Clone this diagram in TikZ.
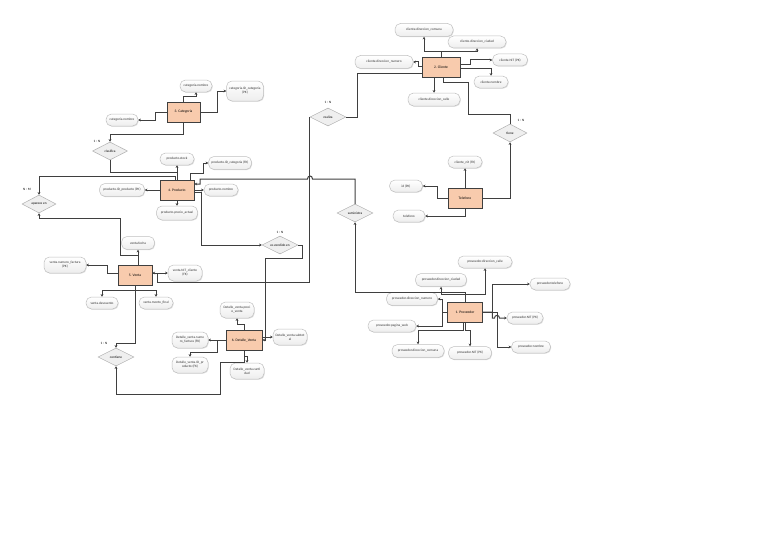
\documentclass[tikz,border=0pt]{standalone}
\usepackage{fontspec}
\setmainfont{Carlito}
\usetikzlibrary{shapes.geometric,arrows.meta,shadows,calc}
\definecolor{peach}{HTML}{F8CBAD}
\definecolor{linec}{HTML}{3F3F3F}
\definecolor{pillb}{HTML}{BFBFBF}
\definecolor{diamf}{HTML}{EFEFEF}
\definecolor{diamb}{HTML}{B0B0B0}
\tikzset{
 attr/.style={rectangle, rounded corners=5.5pt, draw=pillb, line width=0.5pt, top color=white, bottom color=gray!14, drop shadow={opacity=0.25,shadow xshift=0.7pt,shadow yshift=-0.7pt}, minimum height=12pt, inner sep=0.5pt, font=\fontsize{3.4}{4}\selectfont, align=center, text=black!80},
 ent/.style={rectangle, draw=linec, fill=peach, line width=0.9pt, minimum width=35pt, minimum height=20pt, font=\fontsize{3.6}{4.3}\selectfont, inner sep=0pt},
 rel/.style={diamond, aspect=2, draw=diamb, fill=diamf, line width=0.5pt, minimum width=36pt, minimum height=18pt, inner sep=0pt, font=\fontsize{3.4}{4}\selectfont},
 card/.style={font=\fontsize{3.4}{4}\selectfont, inner sep=0pt},
 conn/.style={draw=linec, line width=1pt},
 arr/.style={conn, -{Stealth[length=2.6pt,width=2.6pt]}},
}
\begin{document}
\begin{tikzpicture}[x=1pt,y=-1pt]
\fill[white] (0,0) rectangle (768,535);
\useasboundingbox (0,0) rectangle (768,535);

% ---------- entities ----------
\node[ent, minimum width=38pt] (E2) at (441,67) {2. Cliente};
\node[ent, minimum width=33pt] (E3) at (183.5,112) {3. Categoria};
\node[ent, minimum width=34pt] (E4) at (177,190) {4. Producto};
\node[ent, minimum width=34pt] (E5) at (135,275) {5. Venta};
\node[ent, minimum width=36pt] (E6) at (244,340) {6. Detalle\_Venta};
\node[ent, minimum width=34pt] (ET) at (465,198) {Telefono};
\node[ent, minimum width=35pt] (E1) at (465,312) {1. Proveedor};

% ---------- relationships ----------
\node[rel] (realiza) at (328,117) {realiza};
\node[rel, minimum width=35pt] (clasifica) at (110,151) {clasifica};
\node[rel, minimum width=34pt] (aparece) at (39,204) {aparece en};
\node[rel] (contiene) at (116,357) {contiene};
\node[rel] (vendido) at (280,245) {es vendido en};
\node[rel] (suministra) at (355,213) {suministra};
\node[rel, minimum width=34pt] (tiene) at (510,133) {tiene};

\node[card] (k1) at (328,102) {1 : N};
\node[card] (k2) at (97,141) {1 : N};
\node[card] (k3) at (27,189) {N : M};
\node[card] (k4) at (104,343) {1 : N};
\node[card] (k5) at (280,232) {1 : N};
\node[card] (k6) at (521,120) {1 : N};

% ---------- attributes: cliente ----------
\node[attr, minimum width=58pt, minimum height=13pt] (cComuna) at (424,30) {cliente.direccion\_comuna};
\node[attr, minimum width=58pt] (cCiudad) at (477,42) {cliente.direccion\_ciudad};
\node[attr, minimum width=58pt, minimum height=13pt] (cNumero) at (384,62) {cliente.direccion\_numero};
\node[attr, minimum width=35pt] (cNit) at (510,60) {cliente.NIT (PK)};
\node[attr, minimum width=34pt] (cNombre) at (491,82) {cliente.nombre};
\node[attr, minimum width=52pt, minimum height=13pt] (cCalle) at (434,99.5) {cliente.direccion\_calle};

% ---------- attributes: categoria ----------
\node[attr, minimum width=32pt] (catNomTop) at (196,86) {categoria.nombre};
\node[attr, minimum width=37pt, minimum height=20pt] (catID) at (245,91) {categoria.ID\_categoria\\(PK)};
\node[attr, minimum width=32pt] (catNomLeft) at (122,120) {categoria.nombre};

% ---------- attributes: producto ----------
\node[attr, minimum width=34pt] (pStock) at (177,159) {producto.stock};
\node[attr, minimum width=43pt, minimum height=13pt] (pIDcat) at (230,163) {producto.ID\_categoria (FK)};
\node[attr, minimum width=45pt, minimum height=13pt] (pPK) at (122,190) {producto.ID\_producto (PK)};
\node[attr, minimum width=34pt] (pNombre) at (221,190) {producto.nombre};
\node[attr, minimum width=41pt, minimum height=14pt] (pPrecio) at (177,213) {producto.precio\_actual};

% ---------- attributes: venta ----------
\node[attr, minimum width=33pt, minimum height=13pt] (vFecha) at (138,243) {venta.fecha};
\node[attr, minimum width=42pt, minimum height=16pt] (vPK) at (65,265) {venta.numero\_factura\\(PK)};
\node[attr, minimum width=34pt, minimum height=16pt] (vNIT) at (185,273) {venta.NIT\_cliente\\(FK)};
\node[attr, minimum width=32pt] (vDesc) at (102,303) {venta.descuento};
\node[attr, minimum width=34pt] (vMonto) at (156,303) {venta.monto\_final};

% ---------- attributes: detalle venta ----------
\node[attr, minimum width=34pt, minimum height=16pt] (dPrecio) at (237,310) {Detalle\_venta.preci\\o\_venta};
\node[attr, minimum width=34pt, minimum height=16pt] (dSub) at (290,337) {Detalle\_venta.subtot\\al};
\node[attr, minimum width=36pt, minimum height=16pt] (dNum) at (190,340) {Detalle\_venta.nume\\ro\_factura (FK)};
\node[attr, minimum width=36pt, minimum height=16pt] (dIDp) at (190,365) {Detalle\_venta.ID\_pr\\oducto (FK)};
\node[attr, minimum width=34pt, minimum height=16pt] (dCant) at (247,371) {Detalle\_venta.canti\\dad};

% ---------- attributes: telefono ----------
\node[attr, minimum width=34pt] (tFK) at (465,162) {cliente\_nit (FK)};
\node[attr, minimum width=33pt] (tID) at (406,186) {id (PK)};
\node[attr, minimum width=32pt] (tTel) at (409,216) {telefono};

% ---------- attributes: proveedor ----------
\node[attr, minimum width=54pt] (prCalle) at (485,262) {proveedor.direccion\_calle};
\node[attr, minimum width=51pt, minimum height=13pt] (prCiudad) at (441,280) {proveedor.direccion\_ciudad};
\node[attr, minimum width=40pt] (prTel) at (550,284) {proveedor.telefono};
\node[attr, minimum width=51pt, minimum height=13pt] (prNum) at (412,299) {proveedor.direccion\_numero};
\node[attr, minimum width=36pt] (prNit) at (525,318) {proveedor.NIT (PK)};
\node[attr, minimum width=48pt] (prWeb) at (392,326) {proveedor.pagina\_web};
\node[attr, minimum width=39pt] (prNombre) at (531,347) {proveedor.nombre};
\node[attr, minimum width=52pt, minimum height=13pt] (prComuna) at (418,351) {proveedor.direccion\_comuna};
\node[attr, minimum width=43pt, minimum height=13pt] (prNit2) at (470,353) {proveedor.NIT (PK)};

% ---------- connectors: cliente ----------
\draw[arr] (E2.north) -- ++(0,-5) -| (cComuna.south);
\draw[arr] (E2.north) -- ++(0,-5) -| (cCiudad.south);
\draw[arr] (E2.west) -- ++(-3,0) |- (cNumero.east);
\draw[arr] ([yshift=2pt]E2.east) -- ++(10,0) |- (cNit.west);
\draw[arr] ([yshift=-2pt]E2.east) -| (cNombre.north);
\draw[arr] (E2.south -| cCalle.north) -- (cCalle.north);
\draw[conn] ([yshift=-6pt]E2.west) -| ($(realiza.east)+(11,0)$) -- (realiza.east);
\draw[conn] ([xshift=2pt]E2.south) -- ++(0,5) -- ++(25,0) |- ($(tiene.north)+(0,-9)$) -- (tiene.north);

% ---------- connectors: categoria ----------
\draw[arr] (E3.north) -- ++(0,-5) -| (catNomTop.south);
\draw[arr] (E3.east) -- ++(17,0) |- (catID.west);
\draw[arr] (E3.west) -- ++(-11,0) |- (catNomLeft.east);
\draw[arr] (E3.south) -- ++(0,12) -| (clasifica.north);
\draw[conn] (clasifica.south) -- ++(0,12) -| (E4.north);

% ---------- connectors: producto ----------
\draw[arr] (E4.north) -- (pStock.south);
\draw[arr] ([xshift=13pt]E4.north) -- ++(0,-6) -- ++(13,0) |- (pIDcat.west);
\draw[arr] (E4.west) -- (pPK.east);
\draw[arr] (E4.east) -- (pNombre.west);
\draw[arr] (E4.south) -- (pPrecio.north);
\draw[arr] ([xshift=-2pt]E4.north) -- ++(0,-3) -| (aparece.north);
\draw[arr] ([yshift=-2pt]E4.east) -- ++(7,0) |- (vendido.west);
\draw[arr] (suministra.north) |- (312.5,179) .. controls (312.5,175) and (307.5,175) .. (307.5,179) -- (200,179) |- ([yshift=6pt]E4.east);

% ---------- connectors: venta ----------
\draw[arr] ([xshift=3pt]E5.north) -- (vFecha.south);
\draw[arr] ([xshift=3pt]E5.north) -- ++(0,-9) -- ++(-18,0) |- ($(aparece.south)+(0,5)$) -- (aparece.south);
\draw[arr] ([yshift=2pt]E5.west) -- ++(-10,0) |- (vPK.east);
\draw[arr] ([yshift=2pt]E5.east) -- (vNIT.west);
\draw[arr] (E5.south) -- ++(0,5) -| (vDesc.north);
\draw[arr] (E5.south) -- ++(0,5) -| (vMonto.north);
\draw[arr] (E5.south) -- ++(0,58) -| (contiene.north);
\coordinate (rv) at (157,282);
\draw[arr] (realiza.west) |- (rv) |- ([yshift=2pt]E5.east);

% ---------- connectors: detalle venta ----------
\draw[arr] (E6.north) -- ++(0,-5) -| (dPrecio.south);
\draw[arr] ([yshift=3pt]E6.east) -- (dSub.west);
\draw[arr] (E6.west) -- (dNum.east);
\draw[arr] (E6.west) -- ++(-8,0) -- ++(0,12) -| (dIDp.north);
\draw[arr] (E6.south) -- ++(0,6) -| (dCant.north);
\draw[arr] (E6.south) -- ++(0,12) -| ++(-24,32) -| (contiene.south);
\draw[arr] (vendido.east) -- ++(4,0) -- ++(0,13) -| ($(E6.east)+(3,0)$) -- (E6.east);

% ---------- connectors: telefono ----------
\draw[arr] (ET.north) -- (tFK.south);
\draw[arr] (ET.west) -- ++(-10,0) |- (tID.east);
\draw[arr] (ET.south) |- (tTel.east);
\draw[arr] (ET.east) -| (tiene.south);

% ---------- connectors: proveedor ----------
\draw[arr] (E1.north) -- ++(0,-7) -| (prCalle.south);
\draw[arr] (E1.north) -- ++(0,-7) -| (prCiudad.south);
\draw[arr] (E1.north) -- ++(0,-9) -| (suministra.south);
\draw[arr] (E1.west) -- ++(-4.5,0) |- (prNum.east);
\draw[arr] (E1.west) -- ++(-4.5,0) |- (prWeb.east);
\draw[arr] (E1.east) -- ++(9.5,0) |- (prTel.west);
\draw[arr] (E1.east) -- ++(9.5,0) -- ++(0,6) -- (494.5,318) .. controls (494.5,314.5) and (499.5,314.5) .. (499.5,318) -- (prNit.west);
\draw[arr] (E1.east) -- ++(14.5,0) |- (prNombre.west);
\draw[arr] ([xshift=-2pt]E1.south) -- ++(0,8) -| (prComuna.north);
\draw[arr] (E1.south) -- ++(0,8) -| (prNit2.north);
\end{tikzpicture}
\end{document}
